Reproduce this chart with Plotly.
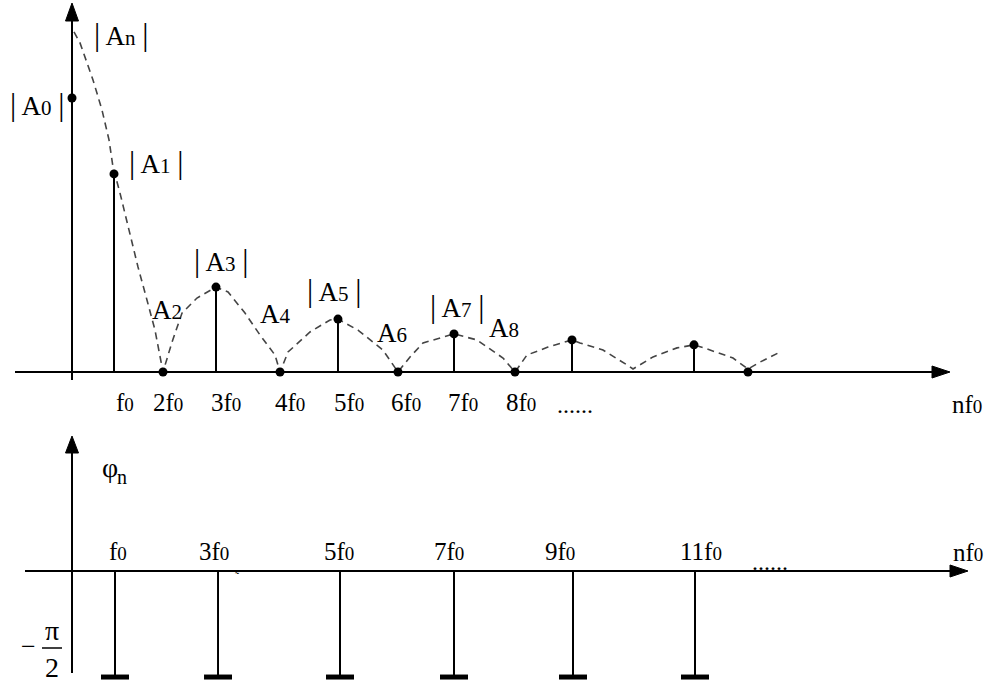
import math
import plotly.graph_objects as go

# ---------------- data ----------------
# harmonic index of each drawn point on the amplitude spectrum
amp_n = [0, 1, 2, 3, 4, 5, 6, 7, 8, 9, 11, 12]
# position of each harmonic along the drawn frequency axis (units of f0, as sketched)
amp_pos = [0.0, 0.76, 1.647, 2.606, 3.765, 4.814, 5.900, 6.914, 8.018, 9.050, 11.258, 12.235]
# |An| normalised so that |A0| = 1
amp_val = [1.0, 0.723, 0.0, 0.310, 0.0, 0.193, 0.0, 0.139, 0.0, 0.117, 0.099, 0.0]

# dashed envelope |An| (sketched curve)
env_x = [0.036, 0.145, 0.380, 0.543, 0.670, 0.742, 0.869, 1.014, 1.195, 1.357, 1.502, 1.647,
         1.810, 1.991, 2.262, 2.606, 2.824, 3.131, 3.403, 3.674, 3.765,
         3.910, 4.308, 4.670, 4.814, 5.176, 5.629, 5.900,
         6.118, 6.353, 6.914, 7.330, 7.801, 8.018,
         8.235, 8.615, 9.050, 9.195, 9.611, 10.045, 10.154,
         10.516, 10.950, 11.258, 11.493, 11.964, 12.235, 12.452, 12.778]
env_y = [1.241, 1.201, 1.066, 0.956, 0.847, 0.748, 0.653, 0.529, 0.383, 0.263, 0.153, 0.0,
         0.109, 0.215, 0.270, 0.310, 0.292, 0.215, 0.135, 0.062, 0.0,
         0.073, 0.146, 0.190, 0.193, 0.153, 0.080, 0.0,
         0.055, 0.106, 0.139, 0.117, 0.051, 0.0,
         0.062, 0.091, 0.117, 0.106, 0.080, 0.026, 0.011,
         0.055, 0.088, 0.099, 0.084, 0.051, 0.011, 0.036, 0.069]

# phase spectrum: odd harmonics, all at -pi/2
ph_n = [1, 3, 5, 7, 9, 11]
ph_pos = [0.778, 2.643, 4.851, 6.914, 9.068, 11.276]
ph_val = [-math.pi / 2] * 6

top_tick_labels = ["f0", "2f0", "3f0", "4f0", "5f0", "6f0", "7f0", "8f0"]
bot_tick_labels = ["f0", "3f0", "5f0", "7f0", "9f0", "11f0"]

# ---------------- geometry helpers ----------------
W, H = 997, 683
X0PX, UX = 72.0, 55.25        # px of x=0, px per f0
Y1PX, UY1 = 372.0, 274.0      # top panel baseline px, px per unit amplitude
Y2PX, UY2 = 571.0, 67.5       # bottom panel baseline px, px per radian

def dx(px):
    return (px - X0PX) / UX

def dy1(py):
    return (Y1PX - py) / UY1

def dy2(py):
    return (Y2PX - py) / UY2

FONT = "Liberation Serif, Times New Roman, serif"

def sub(main, s, size=20):
    return f'{main}<span style="font-size:{size}px;color:black">{s}</span>'

def flab(lbl, size=19):
    base = lbl[:-1]
    return sub(base, "0", size)

fig = go.Figure()

# ---- axes (lines + arrow heads) ----
def vline_axis(yfun, y_from, y_to, tip, base, yaxis):
    fig.add_trace(go.Scatter(x=[0, 0], y=[yfun(y_from), yfun(y_to)], mode="lines",
                             line=dict(color="black", width=2), yaxis=yaxis,
                             hoverinfo="skip", showlegend=False))
    hw = 6.5 / UX
    fig.add_trace(go.Scatter(x=[0, -hw, hw, 0], y=[yfun(tip), yfun(base), yfun(base), yfun(tip)],
                             mode="lines", fill="toself", fillcolor="black",
                             line=dict(color="black", width=1), yaxis=yaxis,
                             hoverinfo="skip", showlegend=False))

def hline_axis(x_from, x_to, tip, base, uy, yaxis):
    fig.add_trace(go.Scatter(x=[dx(x_from), dx(x_to)], y=[0, 0], mode="lines",
                             line=dict(color="black", width=2), yaxis=yaxis,
                             hoverinfo="skip", showlegend=False))
    hw = 6.0 / uy
    fig.add_trace(go.Scatter(x=[dx(tip), dx(base), dx(base), dx(tip)], y=[0, hw, -hw, 0],
                             mode="lines", fill="toself", fillcolor="black",
                             line=dict(color="black", width=1), yaxis=yaxis,
                             hoverinfo="skip", showlegend=False))

hline_axis(15, 934, 950, 932, UY1, "y")
vline_axis(dy1, 380, 20, 3, 21, "y")
hline_axis(25, 952, 968, 950, UY2, "y2")
vline_axis(dy2, 673, 452, 436, 453, "y2")

# ---- envelope ----
fig.add_trace(go.Scatter(x=env_x, y=env_y, mode="lines",
                         line=dict(color="#444444", width=1.6, dash="7px,5px"),
                         hoverinfo="skip", showlegend=False))

# ---- amplitude stems ----
sx, sy = [], []
for p, v in zip(amp_pos, amp_val):
    if v > 0 and p > 0:
        sx += [p, p, None]
        sy += [0, v, None]
fig.add_trace(go.Scatter(x=sx, y=sy, mode="lines", line=dict(color="black", width=2),
                         hoverinfo="skip", showlegend=False))
fig.add_trace(go.Scatter(x=amp_pos, y=amp_val, mode="markers",
                         marker=dict(color="black", size=9), showlegend=False))

# ---- phase stems ----
px_, py_ = [], []
for p, v in zip(ph_pos, ph_val):
    px_ += [p, p, None]
    py_ += [0, v, None]
fig.add_trace(go.Scatter(x=px_, y=py_, mode="lines", line=dict(color="black", width=2),
                         yaxis="y2", hoverinfo="skip", showlegend=False))
fig.add_trace(go.Scatter(x=ph_pos, y=ph_val, mode="markers", yaxis="y2",
                         marker=dict(symbol="line-ew-open", size=20, color="black",
                                     line=dict(color="black", width=5)),
                         showlegend=False))

# ---- annotations ----
ann = []

def text(px, py, s, size=24, xanchor="center"):
    ann.append(dict(x=px / W, y=1 - py / H, xref="paper", yref="paper", text=s,
                    showarrow=False, xanchor=xanchor, yanchor="middle",
                    font=dict(family=FONT, size=size, color="black")))

P = '<span style="font-size:31px;color:black">|</span>'
AS = 27
SS = 21
text(121, 34, f"{P} {sub('A', 'n', SS)} {P}", AS)
text(37, 104, f"{P} {sub('A', '0', SS)} {P}", AS)
text(156, 163, f"{P} {sub('A', '1', SS)} {P}", AS)
text(221, 260, f"{P} {sub('A', '3', SS)} {P}", AS)
text(334, 290, f"{P} {sub('A', '5', SS)} {P}", AS)
text(457, 306, f"{P} {sub('A', '7', SS)} {P}", AS)
text(167, 310, sub("A", "2", SS), AS)
text(275, 314, sub("A", "4", SS), AS)
text(392, 333, sub("A", "6", SS), AS)
text(504, 328, sub("A", "8", SS), AS)

# top tick labels
top_lbl_px = [125, 168, 226, 290, 349, 406, 463, 521]
for lbl, xp in zip(top_tick_labels, top_lbl_px):
    text(xp, 402, flab(lbl), 25)
text(575, 405, "......", 24)
text(967, 404, flab("nf0"), 25)

# bottom labels
text(110, 467, "φ", 28)
text(122, 477, "n", 20)
bot_lbl_px = [118, 214, 339, 449, 560, 701]
for lbl, xp in zip(bot_tick_labels, bot_lbl_px):
    text(xp, 551, flab(lbl), 25)
text(770, 562, "......", 24)
text(968, 552, flab("nf0"), 25)
text(237, 577, "˜", 12)

# -pi/2
text(28, 646, "−", 26)
text(52, 630, "π", 28)
text(52, 667, "2", 28)

fig.update_layout(
    width=W, height=H,
    margin=dict(l=0, r=0, t=0, b=0),
    paper_bgcolor="white", plot_bgcolor="white",
    xaxis=dict(range=[dx(0), dx(W)], visible=False, fixedrange=True),
    yaxis=dict(range=[dy1(H), dy1(0)], visible=False, fixedrange=True),
    yaxis2=dict(range=[dy2(H), dy2(0)], visible=False, overlaying="y", fixedrange=True),
    annotations=ann,
    shapes=[dict(type="line", xref="paper", yref="paper",
                 x0=42 / W, x1=62 / W, y0=1 - 648 / H, y1=1 - 648 / H,
                 line=dict(color="black", width=1.5))],
    showlegend=False,
)

fig.write_html("out.html")
